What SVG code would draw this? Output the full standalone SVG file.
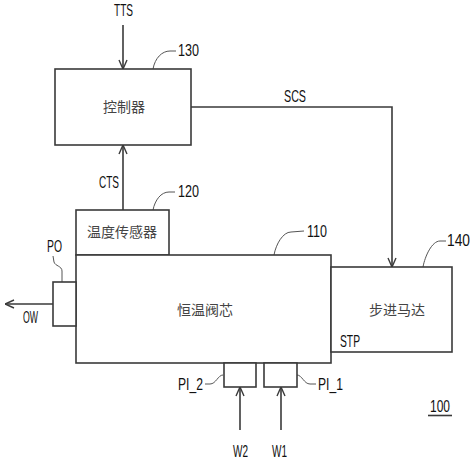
<svg xmlns="http://www.w3.org/2000/svg" width="474" height="461" viewBox="0 0 474 461">
<style>
.box{fill:#fff;stroke:#3a3a3a;stroke-width:1.6}
.ln{fill:none;stroke:#3a3a3a;stroke-width:1.6}
.ld{fill:none;stroke:#555;stroke-width:1}
.lb{font-family:"Liberation Sans",Arial,sans-serif;font-size:17px;fill:#111}
.cn{font-family:"Noto Sans CJK SC","Noto Sans",sans-serif;font-size:14px;fill:#444;text-anchor:middle}
</style>
<defs>
<marker id="ah" viewBox="0 0 10 10" refX="10" refY="5" markerWidth="10" markerHeight="10" markerUnits="userSpaceOnUse" orient="auto">
<path d="M1,1 L10,5 L1,9" fill="none" stroke="#3a3a3a" stroke-width="1.4"/>
</marker>
</defs>
<rect width="474" height="461" fill="#fff"/>
<g id="connectors">
<path class="ln" d="M123,25 V69" marker-end="url(#ah)"/>
<path class="ln" d="M123,210 V145" marker-end="url(#ah)"/>
<path class="ln" d="M191,107 H392 V267" marker-end="url(#ah)"/>
<path class="ln" d="M53,304 H5" marker-end="url(#ah)"/>
<path class="ln" d="M240,430 V387" marker-end="url(#ah)"/>
<path class="ln" d="M281,430 V387" marker-end="url(#ah)"/>
<path class="ld" d="M153,69 C155,58 162,51 170,51 L176,51"/>
<path class="ld" d="M153,210 C155,200 161,192 169,192 L175,192"/>
<path class="ld" d="M274,255 C276,244 283,232 291,232 L304,231"/>
<path class="ld" d="M423,267 C425,256 432,241 440,241 L446,241"/>
<path class="ld" d="M62,282 L62,271 C62,266 55,266 54,262 L53,256"/>
<path class="ld" d="M223,375 C218,375 216,384 210,384 L205,384"/>
<path class="ld" d="M297,375 C302,375 304,384 310,384 L316,384"/>
</g>
<g id="n130">
<rect class="box" x="55" y="69" width="136" height="76"/>
<text class="cn" x="124" y="112">控制器</text>
<text class="lb" x="178" y="56" textLength="21" lengthAdjust="spacingAndGlyphs">130</text>
</g>
<g id="n120">
<rect class="box" x="76" y="210" width="93" height="45"/>
<text class="cn" x="122" y="237">温度传感器</text>
<text class="lb" x="178" y="197" textLength="21" lengthAdjust="spacingAndGlyphs">120</text>
</g>
<g id="n110">
<rect class="box" x="76" y="255" width="255" height="108"/>
<text class="cn" x="205" y="315">恒温阀芯</text>
<text class="lb" x="307" y="237" textLength="20" lengthAdjust="spacingAndGlyphs">110</text>
</g>
<g id="n140">
<rect class="box" x="331" y="267" width="121" height="85"/>
<text class="cn" x="397" y="315">步进马达</text>
<text class="lb" x="447" y="246" textLength="23" lengthAdjust="spacingAndGlyphs">140</text>
<text class="lb" x="340" y="347" textLength="20" lengthAdjust="spacingAndGlyphs">STP</text>
</g>
<g id="nPO">
<rect class="box" x="53" y="282" width="23" height="44"/>
<text class="lb" x="47" y="252" textLength="15" lengthAdjust="spacingAndGlyphs">PO</text>
</g>
<g id="nPI2">
<rect class="box" x="224" y="363" width="32" height="24"/>
<text class="lb" x="178" y="390" textLength="25" lengthAdjust="spacingAndGlyphs">PI_2</text>
</g>
<g id="nPI1">
<rect class="box" x="264" y="363" width="33" height="24"/>
<text class="lb" x="318" y="390" textLength="25" lengthAdjust="spacingAndGlyphs">PI_1</text>
</g>
<g id="labels">
<text class="lb" x="114" y="16" textLength="19" lengthAdjust="spacingAndGlyphs">TTS</text>
<text class="lb" x="284" y="102" textLength="22" lengthAdjust="spacingAndGlyphs">SCS</text>
<text class="lb" x="99" y="188" textLength="20" lengthAdjust="spacingAndGlyphs">CTS</text>
<text class="lb" x="23" y="323" textLength="15" lengthAdjust="spacingAndGlyphs">OW</text>
<text class="lb" x="233" y="457" textLength="15" lengthAdjust="spacingAndGlyphs">W2</text>
<text class="lb" x="272" y="457" textLength="15" lengthAdjust="spacingAndGlyphs">W1</text>
<text class="lb" x="430" y="412" textLength="20" lengthAdjust="spacingAndGlyphs">100</text>
<path class="ln" d="M428,415.5 H452"/>
</g>
</svg>
